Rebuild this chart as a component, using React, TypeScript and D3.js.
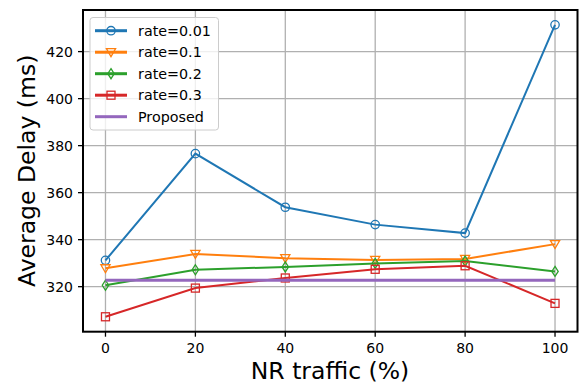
import React from "react";
import * as d3 from "d3";

const xValues = [0, 20, 40, 60, 80, 100];
const rate001 = [331.2, 376.6, 353.8, 346.4, 342.8, 431.4];
const rate01 = [327.8, 333.9, 332.1, 331.4, 331.8, 338.1];
const rate02 = [320.6, 327.2, 328.4, 329.9, 330.9, 326.5];
const rate03 = [307.2, 319.4, 323.7, 327.4, 328.9, 312.9];
const proposed = [322.7, 322.7];
const proposedX = [0, 100];
const xTicks = [0, 20, 40, 60, 80, 100];
const yTicks = [320, 340, 360, 380, 400, 420];
const seriesNames = ["rate=0.01", "rate=0.1", "rate=0.2", "rate=0.3", "Proposed"];
const colors = ["#1f77b4", "#ff7f0e", "#2ca02c", "#d62728", "#9467bd"];
const markers = ["circle", "triangle", "diamond", "square", "none"];

const W = 584;
const H = 385;
const left = 83, right = 577.5, top = 10, bottom = 331.7;
const FONT = "DejaVu Sans, sans-serif";

function Marker({ type, x, y, color }: { type: string; x: number; y: number; color: string }) {
  const sw = 1.3;
  if (type === "circle") return <circle cx={x} cy={y} r={4.2} fill="none" stroke={color} strokeWidth={sw} />;
  if (type === "square") return <rect x={x - 4} y={y - 4} width={8} height={8} fill="none" stroke={color} strokeWidth={sw} />;
  if (type === "triangle")
    return <path d={`M${x - 4.6},${y - 3.6}L${x + 4.6},${y - 3.6}L${x},${y + 4.4}Z`} fill="none" stroke={color} strokeWidth={sw} />;
  if (type === "diamond")
    return <path d={`M${x},${y - 5}L${x + 3.2},${y}L${x},${y + 5}L${x - 3.2},${y}Z`} fill="none" stroke={color} strokeWidth={sw} />;
  return null;
}

export default function App() {
  const x = d3.scaleLinear().domain([-5, 105]).range([left, right]);
  const y = d3.scaleLinear().domain([300.85, 437.7]).range([bottom, top]);
  const line = d3.line<[number, number]>().x((d) => x(d[0])).y((d) => y(d[1]));
  const series = [rate001, rate01, rate02, rate03];

  return (
    <div style={{ position: "fixed", left: 0, top: 0 }}>
      <svg width={W} height={H} style={{ display: "block", background: "#fff" }}>
        <rect width={W} height={H} fill="#fff" />
        {xTicks.map((t) => (
          <line key={"gx" + t} x1={x(t)} x2={x(t)} y1={top} y2={bottom} stroke="#b0b0b0" strokeWidth={1.3} />
        ))}
        {yTicks.map((t) => (
          <line key={"gy" + t} x1={left} x2={right} y1={y(t)} y2={y(t)} stroke="#b0b0b0" strokeWidth={1.3} />
        ))}
        {series.map((s, i) => (
          <g key={"s" + i}>
            <path d={line(xValues.map((v, j) => [v, s[j]]) as [number, number][]) || ""} fill="none" stroke={colors[i]} strokeWidth={2} />
            {xValues.map((v, j) => (
              <Marker key={j} type={markers[i]} x={x(v)} y={y(s[j])} color={colors[i]} />
            ))}
          </g>
        ))}
        <path d={line(proposedX.map((v, j) => [v, proposed[j]]) as [number, number][]) || ""} fill="none" stroke={colors[4]} strokeWidth={3} />
        <rect x={left} y={top} width={right - left} height={bottom - top} fill="none" stroke="#000" strokeWidth={2} />
        {xTicks.map((t) => (
          <g key={"xt" + t}>
            <line x1={x(t)} x2={x(t)} y1={bottom} y2={bottom + 5} stroke="#000" strokeWidth={1.3} />
            <text x={x(t)} y={353} textAnchor="middle" fontFamily={FONT} fontSize={14} fill="#000">{t}</text>
          </g>
        ))}
        {yTicks.map((t) => (
          <g key={"yt" + t}>
            <line x1={left - 5} x2={left} y1={y(t)} y2={y(t)} stroke="#000" strokeWidth={1.3} />
            <text x={73} y={y(t)} dy="0.36em" textAnchor="end" fontFamily={FONT} fontSize={14} fill="#000">{t}</text>
          </g>
        ))}
        <text x={330} y={379} textAnchor="middle" fontFamily={FONT} fontSize={23.5} fill="#000">NR traffic (%)</text>
        <text transform={`translate(35,${(top + bottom) / 2}) rotate(-90)`} textAnchor="middle" fontFamily={FONT} fontSize={23.5} fill="#000">Average Delay (ms)</text>
        <rect x={90} y={17.5} width={128.5} height={112.5} rx={3} fill="#fff" fillOpacity={0.8} stroke="#cccccc" strokeWidth={1} />
        {seriesNames.map((n, i) => {
          const ly = 30.7 + i * 21.5;
          return (
            <g key={"lg" + i}>
              <line x1={95} x2={127} y1={ly} y2={ly} stroke={colors[i]} strokeWidth={3} />
              <Marker type={markers[i]} x={111} y={ly} color={colors[i]} />
              <text x={138} y={ly} dy="0.36em" fontFamily={FONT} fontSize={14.3} fill="#000">{n}</text>
            </g>
          );
        })}
      </svg>
    </div>
  );
}
